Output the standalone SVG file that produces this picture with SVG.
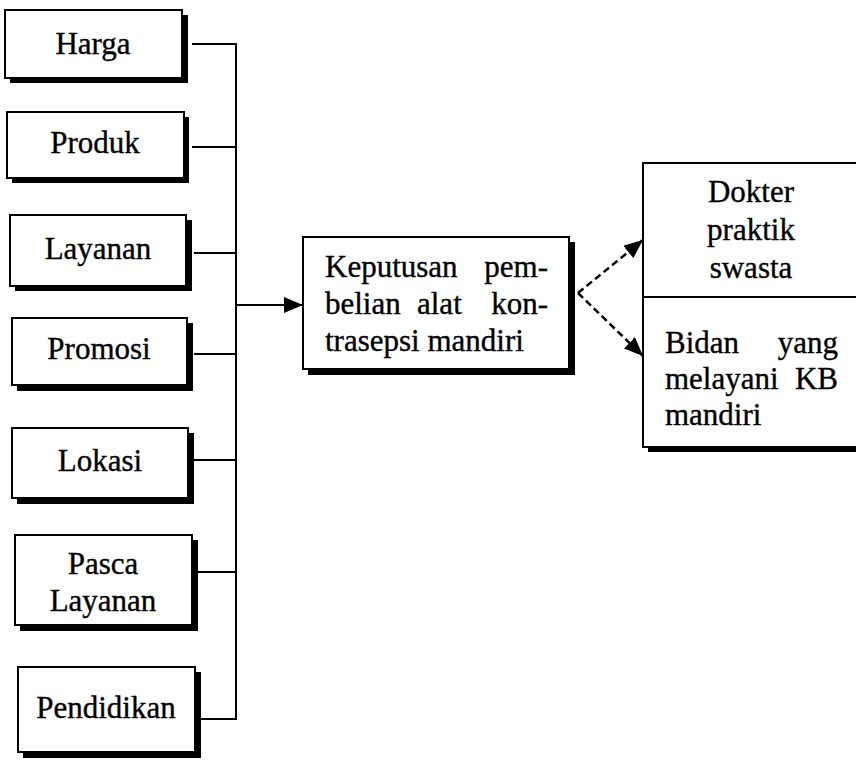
<svg xmlns="http://www.w3.org/2000/svg" width="856" height="760" viewBox="0 0 856 760">
<style>
.shadow{fill:#000;stroke:none}
.box{fill:#fff;stroke:#000;stroke-width:2}
.t{font-family:"Liberation Serif","Times New Roman",serif;font-size:31px;fill:#000;stroke:#000;stroke-width:0.35}
.c{text-anchor:middle}
.e{text-anchor:end}
.line{fill:none;stroke:#000;stroke-width:2}
.dash{fill:none;stroke:#000;stroke-width:2.5;stroke-dasharray:7 4}
</style>
<defs>
<marker id="ah" viewBox="0 0 19 16" refX="19" refY="8" markerWidth="19" markerHeight="16" markerUnits="userSpaceOnUse" orient="auto">
<path d="M0,0 L19,8 L0,16 Z" fill="#000"/>
</marker>
</defs>
<g id="connectors">
<path class="line" d="M192,44 H236 V719"/>
<path class="line" d="M192,147 H236"/>
<path class="line" d="M194,253 H236"/>
<path class="line" d="M194,354 H236"/>
<path class="line" d="M194,460 H236"/>
<path class="line" d="M198,572 H236"/>
<path class="line" d="M201,719 H237"/>
<path class="line" d="M237,305 H303" marker-end="url(#ah)"/>
<path class="dash" d="M578,293 L643,240" marker-end="url(#ah)"/>
<path class="dash" d="M578,293 L643,356" marker-end="url(#ah)"/>
</g>
<g id="harga">
<rect class="shadow" x="10" y="15" width="178" height="68"/>
<rect class="box" x="5" y="10" width="177" height="68"/>
<text class="t c" x="93" y="54">Harga</text>
</g>
<g id="produk">
<rect class="shadow" x="12" y="117" width="177" height="66"/>
<rect class="box" x="7" y="112" width="177" height="66"/>
<text class="t c" x="95" y="153">Produk</text>
</g>
<g id="layanan">
<rect class="shadow" x="15" y="220" width="177" height="71"/>
<rect class="box" x="10" y="215" width="176" height="71"/>
<text class="t c" x="98" y="259">Layanan</text>
</g>
<g id="promosi">
<rect class="shadow" x="17" y="323" width="176" height="68"/>
<rect class="box" x="12" y="318" width="175" height="67"/>
<text class="t c" x="99" y="359">Promosi</text>
</g>
<g id="lokasi">
<rect class="shadow" x="17" y="433" width="177" height="71"/>
<rect class="box" x="12" y="428" width="176" height="70"/>
<text class="t c" x="100" y="471">Lokasi</text>
</g>
<g id="pasca-layanan">
<rect class="shadow" x="20" y="540" width="178" height="91"/>
<rect class="box" x="15" y="535" width="177" height="90"/>
<text class="t c" x="103" y="574">Pasca</text>
<text class="t c" x="103" y="611">Layanan</text>
</g>
<g id="pendidikan">
<rect class="shadow" x="23" y="672" width="178" height="86"/>
<rect class="box" x="18" y="667" width="177" height="85"/>
<text class="t c" x="106" y="718">Pendidikan</text>
</g>
<g id="keputusan">
<rect class="shadow" x="308" y="242" width="267" height="133"/>
<rect class="box" x="303" y="237" width="266" height="132"/>
<text class="t" x="325" y="277">Keputusan</text>
<text class="t e" x="548" y="277">pem-</text>
<text class="t" x="325" y="314">belian</text>
<text class="t" x="417" y="314">alat</text>
<text class="t e" x="548" y="314">kon-</text>
<text class="t" x="325" y="351">trasepsi mandiri</text>
</g>
<g id="penyedia">
<rect class="shadow" x="648" y="168" width="220" height="284"/>
<rect class="box" x="643" y="163" width="225" height="284"/>
<line class="line" x1="643" y1="297" x2="868" y2="297"/>
<text class="t c" x="751" y="202">Dokter</text>
<text class="t c" x="751" y="240">praktik</text>
<text class="t c" x="751" y="278">swasta</text>
<text class="t" x="665" y="353">Bidan</text>
<text class="t e" x="838" y="353">yang</text>
<text class="t" x="665" y="389">melayani</text>
<text class="t e" x="838" y="389">KB</text>
<text class="t" x="665" y="425">mandiri</text>
</g>
</svg>
